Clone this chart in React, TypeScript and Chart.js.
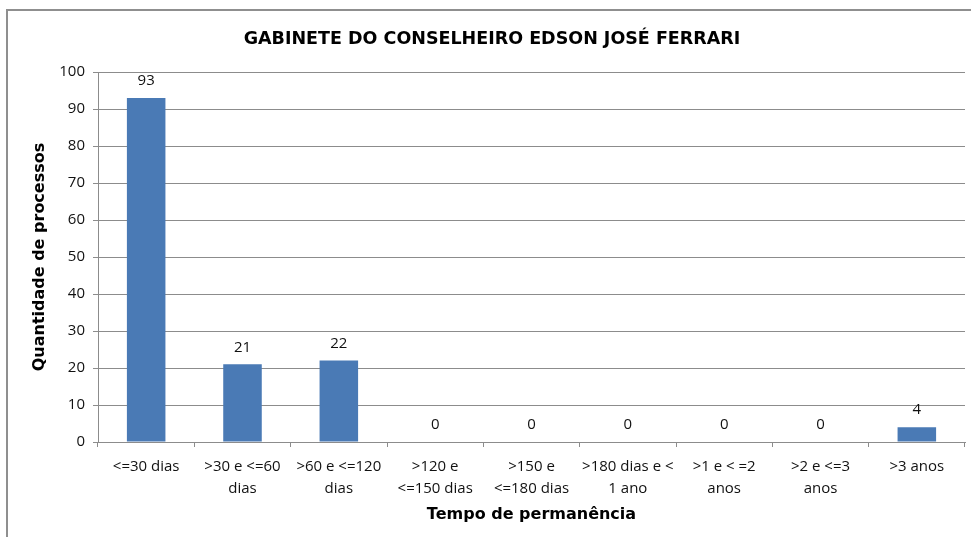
import React, { useEffect, useRef } from "react";
import { Chart, registerables } from "chart.js";

Chart.register(...registerables);

const titleText = "GABINETE DO CONSELHEIRO EDSON JOSÉ FERRARI";
const xTitle = "Tempo de permanência";
const yTitle = "Quantidade de processos";
const categories: string[][] = [
  ["<=30 dias"],
  [">30 e <=60", "dias"],
  [">60 e <=120", "dias"],
  [">120 e", "<=150 dias"],
  [">150 e", "<=180 dias"],
  [">180 dias e <", "1 ano"],
  [">1 e < =2", "anos"],
  [">2 e <=3", "anos"],
  [">3 anos"],
];
const values: number[] = [93, 21, 22, 0, 0, 0, 0, 0, 4];
const yMin = 0;
const yMax = 100;
const yStep = 10;

const tickFont = "'Open Sans', 'Liberation Sans', sans-serif";
const boldFont = "'DejaVu Sans', 'Liberation Sans', sans-serif";

const valueLabels = {
  id: "valueLabels",
  afterDatasetsDraw(chart: any) {
    const ctx = chart.ctx;
    const meta = chart.getDatasetMeta(0);
    ctx.save();
    ctx.font = `15px ${tickFont}`;
    ctx.fillStyle = "#111";
    ctx.textAlign = "center";
    ctx.textBaseline = "middle";
    meta.data.forEach((bar: any, i: number) => {
      ctx.fillText(String(values[i]), bar.x, bar.y - 17);
    });
    ctx.restore();
  },
};

export default function App() {
  const ref = useRef<HTMLCanvasElement>(null);
  useEffect(() => {
    if (!ref.current) return;
    const chart = new Chart(ref.current, {
      type: "bar",
      data: {
        labels: categories,
        datasets: [
          {
            data: values,
            backgroundColor: "#4A7AB5",
            borderWidth: 0,
            barPercentage: 0.4,
            categoryPercentage: 1,
          },
        ],
      },
      options: {
        animation: false,
        responsive: false,
        maintainAspectRatio: false,
        layout: { padding: { left: 19, right: 6, top: 0, bottom: 0 } },
        plugins: {
          legend: { display: false },
          tooltip: { enabled: false },
          title: {
            display: true,
            text: titleText,
            color: "#000",
            font: { family: boldFont, size: 17.5, weight: "bold", lineHeight: 1.2 },
            padding: { top: 29, bottom: 22 },
          },
        },
        scales: {
          x: {
            afterFit: (s: any) => {
              s.height = 95;
            },
            grid: {
              display: true,
              drawOnChartArea: false,
              drawTicks: true,
              tickLength: 5,
              color: "#8c8c8c",
              offset: true,
            },
            border: { display: true, color: "#8c8c8c" },
            ticks: {
              color: "#111",
              font: { family: tickFont, size: 15, lineHeight: 1.45 },
              padding: 9,
              maxRotation: 0,
              autoSkip: false,
            },
            title: {
              display: true,
              text: xTitle,
              color: "#000",
              font: { family: boldFont, size: 16, weight: "bold", lineHeight: 1.2 },
              padding: { top: 0, bottom: 13 },
            },
          },
          y: {
            min: yMin,
            max: yMax,
            afterFit: (s: any) => {
              s.width = 79;
            },
            grid: {
              color: "#8c8c8c",
              tickLength: 5,
              drawTicks: true,
            },
            border: { display: true, color: "#8c8c8c" },
            ticks: {
              stepSize: yStep,
              color: "#111",
              font: { family: tickFont, size: 15 },
              padding: 8,
            },
            title: {
              display: true,
              text: yTitle,
              color: "#000",
              font: { family: boldFont, size: 16, weight: "bold", lineHeight: 1.2 },
              padding: { top: 11, bottom: 0 },
            },
          },
        },
      },
      plugins: [valueLabels],
    });
    return () => chart.destroy();
  }, []);

  return (
    <div
      style={{
        position: "fixed",
        left: 0,
        top: 0,
        width: 971,
        height: 537,
        overflow: "hidden",
        background: "#fff",
      }}
    >
      <div
        style={{
          position: "absolute",
          left: 6,
          top: 9,
          width: 1000,
          height: 600,
          border: "2px solid #8f8f8f",
          boxSizing: "border-box",
        }}
      />
      <canvas
        ref={ref}
        width={971}
        height={537}
        style={{ position: "absolute", left: 0, top: 0 }}
      />
    </div>
  );
}
